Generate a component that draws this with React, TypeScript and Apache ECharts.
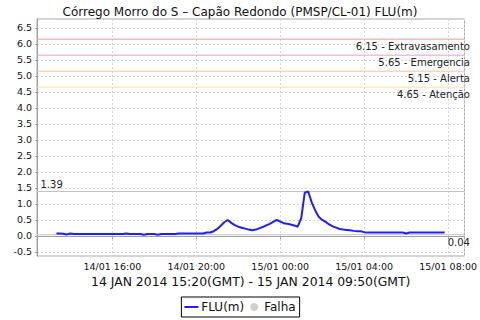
import React, { useEffect, useRef } from "react";
import * as echarts from "echarts";

const TITLE = "Córrego Morro do S – Capão Redondo (PMSP/CL-01) FLU(m)";
const X_AXIS_NAME = "14 JAN 2014 15:20(GMT) - 15 JAN 2014 09:50(GMT)";
const SERIES_NAME = "FLU(m)";
const FAIL_NAME = "Falha";

// first sample: 14/01 13:20 (local), one sample every 10 minutes
const START_HOUR = 13 + 20 / 60;
const STEP_MIN = 10;

const FLU_VALUES = [
  0.08, 0.08, 0.07, 0.05, 0.08, 0.06, 0.06, 0.06, 0.06, 0.06,
  0.06, 0.06, 0.06, 0.06, 0.06, 0.06, 0.06, 0.06, 0.06, 0.06,
  0.08, 0.06, 0.06, 0.06, 0.06, 0.04, 0.06, 0.06, 0.06, 0.04,
  0.06, 0.06, 0.06, 0.06, 0.06, 0.08, 0.08, 0.08, 0.08, 0.08,
  0.08, 0.08, 0.08, 0.11, 0.11, 0.15, 0.22, 0.32, 0.43, 0.50,
  0.41, 0.34, 0.29, 0.26, 0.23, 0.20, 0.18, 0.20, 0.24, 0.28,
  0.33, 0.38, 0.44, 0.50, 0.45, 0.40, 0.38, 0.36, 0.33, 0.29,
  0.55, 1.35, 1.39, 1.05, 0.80, 0.60, 0.50, 0.44, 0.36, 0.30,
  0.26, 0.22, 0.20, 0.19, 0.18, 0.16, 0.15, 0.15, 0.12, 0.11,
  0.11, 0.11, 0.11, 0.11, 0.11, 0.11, 0.11, 0.11, 0.11, 0.11,
  0.08, 0.11, 0.11, 0.11, 0.11, 0.11, 0.11, 0.11, 0.11, 0.11,
  0.11, 0.11,
];

const THRESHOLD_VALUES = [6.15, 5.65, 5.15, 4.65];
const THRESHOLD_NAMES = ["Extravasamento", "Emergencia", "Alerta", "Atenção"];
const THRESHOLD_COLORS = ["#ee9a9a", "#e49ae4", "#f7c48f", "#f2e49a"];
const EXTREME_COLOR = "#c4c4c4";

const X_MIN = 12.41;
const X_MAX = 32.78;
const Y_MIN = -0.625;
const Y_MAX = 6.78;

const FONT = "DejaVu Sans";

function pad(n: number) {
  return n < 10 ? "0" + n : "" + n;
}

const markLabel = {
  color: "#222",
  fontFamily: FONT,
  fontSize: 10,
};

// horizontal reference line drawn as a 2-point line series across the x extent
function refLine(name: string, y: number, color: string, text: string, atStart: boolean) {
  const labelled = {
    show: true,
    formatter: text,
    position: atStart ? [4, -12] : [6, 3],
    align: atStart ? "left" : "right",
    verticalAlign: "top",
    ...markLabel,
  };
  return {
    name,
    type: "line",
    silent: true,
    z: 1,
    symbol: "circle",
    symbolSize: 1,
    showSymbol: true,
    itemStyle: { color: "rgba(0,0,0,0)" },
    lineStyle: { color, width: 1, type: "solid" },
    emphasis: { disabled: true },
    labelLayout: { hideOverlap: false },
    data: [
      { value: [X_MIN, y], label: atStart ? labelled : { show: false } },
      { value: [X_MAX, y], label: atStart ? { show: false } : labelled },
    ],
  };
}

export default function App() {
  const ref = useRef<HTMLDivElement>(null);

  useEffect(() => {
    if (!ref.current) return;
    const chart = echarts.init(ref.current, null, { renderer: "svg" });

    const data = FLU_VALUES.map((v, i) => [START_HOUR + (i * STEP_MIN) / 60, v]);
    const maxV = Math.max(...FLU_VALUES);
    const minV = Math.min(...FLU_VALUES);

    const thresholdSeries = THRESHOLD_VALUES.map((v, i) =>
      refLine("limit" + i, v, THRESHOLD_COLORS[i], v.toFixed(2) + " - " + THRESHOLD_NAMES[i], false)
    );

    chart.setOption({
      animation: false,
      backgroundColor: "#fff",
      title: {
        text: TITLE,
        left: "center",
        top: 1,
        textStyle: { fontFamily: FONT, fontSize: 12, fontWeight: "normal", color: "#111" },
      },
      legend: {
        bottom: 3,
        left: "center",
        data: [
          { name: SERIES_NAME, icon: "path://M0,0H14V2H0Z" },
          { name: FAIL_NAME, icon: "circle" },
        ],
        borderColor: "#000",
        borderWidth: 1,
        borderRadius: 0,
        padding: [4, 4, 4, 3],
        itemGap: 6,
        itemWidth: 14,
        itemHeight: 8,
        textStyle: { fontFamily: FONT, fontSize: 12, color: "#111", padding: [0, 0, 0, -2] },
      },
      grid: {
        left: 37,
        right: 8,
        top: 19,
        bottom: 64,
        show: true,
        borderColor: "#a8a8a8",
        borderWidth: 1,
        backgroundColor: "#fff",
      },
      xAxis: {
        type: "value",
        min: X_MIN,
        max: X_MAX,
        minInterval: 4,
        maxInterval: 4,
        name: X_AXIS_NAME,
        nameLocation: "middle",
        nameGap: 19,
        nameTextStyle: { fontFamily: FONT, fontSize: 12.4, color: "#111" },
        axisLine: { lineStyle: { color: "#a0a0a0" } },
        axisTick: { length: 3, lineStyle: { color: "#a0a0a0" } },
        axisLabel: {
          showMinLabel: false,
          showMaxLabel: false,
          fontFamily: FONT,
          fontSize: 9.5,
          color: "#111",
          margin: 5,
          formatter: (h: number) => {
            const hr = Math.round(h);
            const day = 14 + Math.floor(hr / 24);
            return pad(day) + "/01 " + pad(hr % 24) + ":00";
          },
        },
        splitLine: { show: true, lineStyle: { color: "#d6d6d6", type: [2, 2] } },
      },
      yAxis: {
        type: "value",
        min: Y_MIN,
        max: Y_MAX,
        minInterval: 0.5,
        maxInterval: 0.5,
        axisLine: { show: true, lineStyle: { color: "#a0a0a0" } },
        axisTick: { show: true, length: 2, lineStyle: { color: "#a0a0a0" } },
        axisLabel: {
          showMinLabel: false,
          showMaxLabel: false,
          fontFamily: FONT,
          fontSize: 9.5,
          color: "#111",
          margin: 5,
          formatter: (v: number) => v.toFixed(1),
        },
        splitLine: { show: true, lineStyle: { color: "#d6d6d6", type: [2, 2] } },
      },
      series: [
        ...thresholdSeries,
        refLine("max", maxV, EXTREME_COLOR, maxV.toFixed(2), true),
        refLine("min", minV, EXTREME_COLOR, minV.toFixed(2), false),
        {
          name: SERIES_NAME,
          type: "line",
          data,
          z: 3,
          symbol: "none",
          color: "#1e1eff",
          lineStyle: { color: "#1e1eff", width: 2 },
        },
        {
          name: FAIL_NAME,
          type: "scatter",
          data: [],
          symbol: "circle",
          symbolSize: 8,
          color: "#c4c4c4",
        },
      ],
    });

    return () => chart.dispose();
  }, []);

  return <div ref={ref} style={{ width: 480, height: 320, position: "absolute", left: 0, top: 0 }} />;
}
